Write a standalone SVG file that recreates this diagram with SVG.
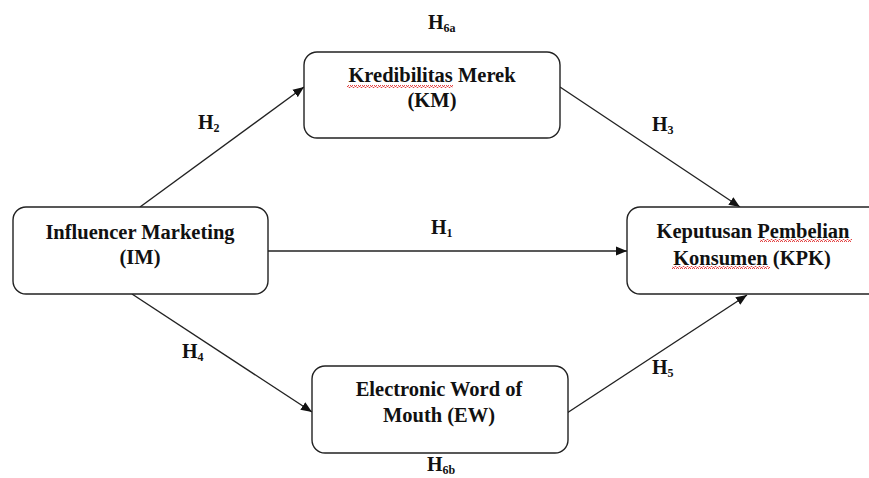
<svg xmlns="http://www.w3.org/2000/svg" width="869" height="478" viewBox="0 0 869 478">
<defs>
<marker id="ah" markerWidth="12" markerHeight="10" refX="11" refY="5" orient="auto" markerUnits="userSpaceOnUse">
<path d="M0,0.5 L11,5 L0,9.5 Z" fill="#111"/>
</marker>
<pattern id="wave" width="4" height="3" patternUnits="userSpaceOnUse">
<path d="M0,2.5 L1,0.5 L2,0.5 L3,2.5 L4,2.5" fill="none" stroke="#e03030" stroke-width="0.9"/>
</pattern>
<style>
.box{fill:#fff;stroke:#222;stroke-width:1.4}
.t{font-family:'Liberation Serif','Times New Roman','DejaVu Serif',serif;font-weight:bold;font-size:20.5px;fill:#111;text-anchor:middle}
.h{font-family:'Liberation Serif','Times New Roman','DejaVu Serif',serif;font-weight:bold;font-size:20px;fill:#111}
.sub{font-size:12px}
.c{stroke:#222;stroke-width:1.4;fill:none;marker-end:url(#ah)}
</style>
</defs>
<rect width="869" height="478" fill="#fff"/>
<g id="connectors">
<line class="c" x1="140" y1="207" x2="304" y2="87"/>
<line class="c" x1="268" y1="251" x2="627" y2="251"/>
<line class="c" x1="132" y1="294" x2="312" y2="412"/>
<line class="c" x1="560" y1="87" x2="740" y2="207"/>
<line class="c" x1="567" y1="413" x2="747" y2="295"/>
</g>
<g id="labels">
<text class="h" x="198" y="129">H<tspan class="sub" dy="3">2</tspan></text>
<text class="h" x="182" y="358">H<tspan class="sub" dy="3">4</tspan></text>
<text class="h" x="652" y="131">H<tspan class="sub" dy="3">3</tspan></text>
<text class="h" x="652" y="374">H<tspan class="sub" dy="3">5</tspan></text>
<text class="h" x="431" y="234">H<tspan class="sub" dy="3">1</tspan></text>
<text class="h" x="428" y="29">H<tspan class="sub" dy="3">6a</tspan></text>
<text class="h" x="427" y="471">H<tspan class="sub" dy="3">6b</tspan></text>
</g>
<g id="node-km">
<rect class="box" x="304" y="52" width="256" height="86" rx="13"/>
<text class="t" x="432" y="82">Kredibilitas Merek</text>
<text class="t" x="432" y="107">(KM)</text>
<rect x="347" y="85" width="106" height="3" fill="url(#wave)"/>
</g>
<g id="node-im">
<rect class="box" x="13" y="207" width="255" height="87" rx="13"/>
<text class="t" x="140" y="239">Influencer Marketing</text>
<text class="t" x="140" y="264">(IM)</text>
</g>
<g id="node-kpk">
<rect class="box" x="627" y="207" width="260" height="87" rx="13"/>
<text class="t" x="753" y="238">Keputusan Pembelian</text>
<text class="t" x="752" y="265">Konsumen (KPK)</text>
<rect x="760" y="239" width="92" height="3" fill="url(#wave)"/>
<rect x="672" y="266" width="98" height="3" fill="url(#wave)"/>
</g>
<g id="node-ew">
<rect class="box" x="312" y="366" width="256" height="87" rx="13"/>
<text class="t" x="439" y="396">Electronic Word of</text>
<text class="t" x="439" y="422">Mouth (EW)</text>
</g>
</svg>
